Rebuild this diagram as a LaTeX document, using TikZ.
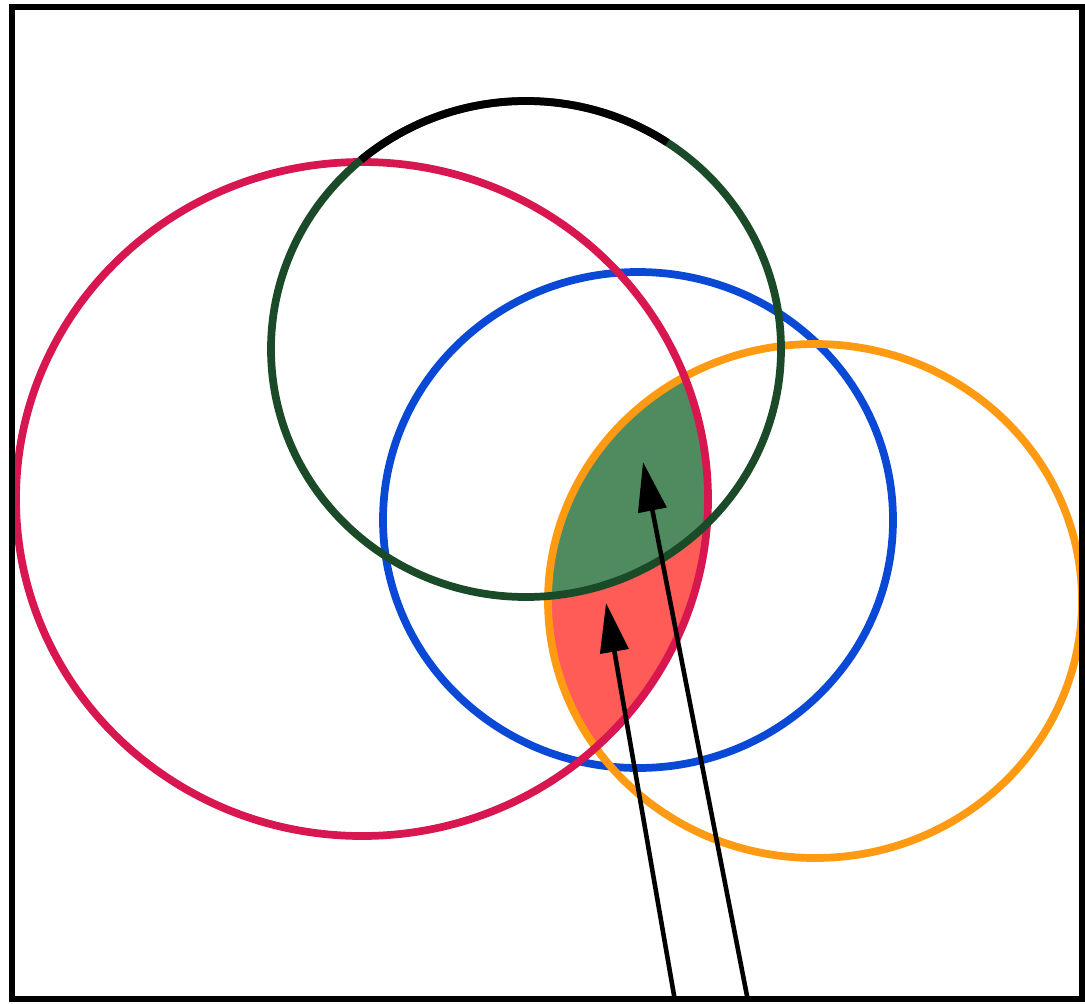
\documentclass[tikz,border=0pt]{standalone}
\usetikzlibrary{arrows.meta}
\definecolor{redring}{HTML}{D81650}
\definecolor{greenring}{HTML}{1B4A28}
\definecolor{bluering}{HTML}{0A48D6}
\definecolor{orangering}{HTML}{FF9A12}
\definecolor{greenfill}{HTML}{4F8B5F}
\definecolor{redfill}{HTML}{FF5C57}
\begin{document}
\begin{tikzpicture}[x=0.01cm,y=-0.01cm,
  ring/.style={line width=2.2pt},
  pointer/.style={-{Triangle[length=14pt,width=8pt]},line width=1.3pt,black}]
\useasboundingbox (0,0) rectangle (1085,1003);
\coordinate (cr) at (362,499);
\coordinate (cg) at (526,349);
\coordinate (cb) at (638,520);
\coordinate (co) at (815,601);
% filled lens
\begin{scope}
\clip (cr) ellipse [x radius=346,y radius=337];
\clip (co) ellipse [x radius=267,y radius=257];
\fill[redfill] (cb) ellipse [x radius=255,y radius=248];
\fill[greenfill] (cg) ellipse [x radius=255,y radius=248];
\end{scope}
\draw[ring,bluering] (cb) ellipse [x radius=255,y radius=248];
\draw[ring,orangering] (co) ellipse [x radius=267,y radius=257];
\draw[ring,redring] (cr) ellipse [x radius=346,y radius=337];
\draw[ring,greenring] (cg) ellipse [x radius=255,y radius=248];
\begin{scope}
\clip (cg) -- (196,-29) -- (808,-63) -- cycle;
\draw[ring,black] (cg) ellipse [x radius=255,y radius=248];
\end{scope}
% arrows
\coordinate (t1) at (675,1001);
\coordinate (h1) at (606,603);
\coordinate (t2) at (748,1001);
\coordinate (h2) at (643,462);
\draw[pointer] (t1) -- (h1);
\draw[pointer] (t2) -- (h2);
\draw[line width=1.9pt] (12,7) rectangle (1082,999);
\end{tikzpicture}
\end{document}
